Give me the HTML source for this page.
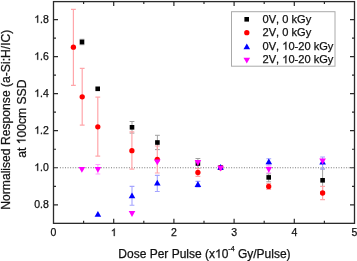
<!DOCTYPE html>
<html><head><meta charset="utf-8"><style>
html,body{margin:0;padding:0;background:#fff;width:357px;height:261px;overflow:hidden}
svg{display:block;will-change:transform;filter:blur(0.3px);font-family:"Liberation Sans",sans-serif;font-kerning:none}
text{stroke:#111;stroke-width:0.25px}
</style></head><body>
<svg width="357" height="261" viewBox="0 0 357 261">
<rect x="53.5" y="1.6" width="301.0" height="221.75" fill="none" stroke="#2a2a2a" stroke-width="1.3"/>
<path d="M83.60 223.35v-2.5M83.60 1.6v2.5M113.70 223.35v-4.5M113.70 1.6v4.5M143.80 223.35v-2.5M143.80 1.6v2.5M173.90 223.35v-4.5M173.90 1.6v4.5M204.00 223.35v-2.5M204.00 1.6v2.5M234.10 223.35v-4.5M234.10 1.6v4.5M264.20 223.35v-2.5M264.20 1.6v2.5M294.30 223.35v-4.5M294.30 1.6v4.5M324.40 223.35v-2.5M324.40 1.6v2.5M53.5 204.80h4.5M354.5 204.80h-4.5M53.5 186.28h2.5M354.5 186.28h-2.5M53.5 167.76h4.5M354.5 167.76h-4.5M53.5 149.24h2.5M354.5 149.24h-2.5M53.5 130.72h4.5M354.5 130.72h-4.5M53.5 112.20h2.5M354.5 112.20h-2.5M53.5 93.68h4.5M354.5 93.68h-4.5M53.5 75.16h2.5M354.5 75.16h-2.5M53.5 56.64h4.5M354.5 56.64h-4.5M53.5 38.12h2.5M354.5 38.12h-2.5M53.5 19.60h4.5M354.5 19.60h-4.5" stroke="#2a2a2a" stroke-width="1.2" fill="none"/>
<line x1="59.9" y1="167.76" x2="352" y2="167.76" stroke="#777" stroke-width="1" stroke-dasharray="1 1.556"/>
<g fill="#111"><text x="50.580" y="236.100" font-size="10.5">0</text><text x="110.780" y="236.100" font-size="10.5"> </text><path transform="matrix(0.005127 0 0 -0.005127 110.780 236.100)" stroke="#111" stroke-width="48.8" d="M763 0L583 0L583 1147Q518 1085 412 1023Q306 961 222 930L222 1104Q373 1175 486 1276Q599 1377 646 1472L763 1472Z"/><text x="170.980" y="236.100" font-size="10.5">2</text><text x="231.180" y="236.100" font-size="10.5">3</text><text x="291.380" y="236.100" font-size="10.5">4</text><text x="351.580" y="236.100" font-size="10.5">5</text><text x="34.254" y="207.900" font-size="10.5">0.8</text><text x="34.254" y="170.860" font-size="10.5"> .0</text><path transform="matrix(0.005127 0 0 -0.005127 34.254 170.860)" stroke="#111" stroke-width="48.8" d="M763 0L583 0L583 1147Q518 1085 412 1023Q306 961 222 930L222 1104Q373 1175 486 1276Q599 1377 646 1472L763 1472Z"/><text x="34.254" y="133.820" font-size="10.5"> .2</text><path transform="matrix(0.005127 0 0 -0.005127 34.254 133.820)" stroke="#111" stroke-width="48.8" d="M763 0L583 0L583 1147Q518 1085 412 1023Q306 961 222 930L222 1104Q373 1175 486 1276Q599 1377 646 1472L763 1472Z"/><text x="34.254" y="96.780" font-size="10.5"> .4</text><path transform="matrix(0.005127 0 0 -0.005127 34.254 96.780)" stroke="#111" stroke-width="48.8" d="M763 0L583 0L583 1147Q518 1085 412 1023Q306 961 222 930L222 1104Q373 1175 486 1276Q599 1377 646 1472L763 1472Z"/><text x="34.254" y="59.740" font-size="10.5"> .6</text><path transform="matrix(0.005127 0 0 -0.005127 34.254 59.740)" stroke="#111" stroke-width="48.8" d="M763 0L583 0L583 1147Q518 1085 412 1023Q306 961 222 930L222 1104Q373 1175 486 1276Q599 1377 646 1472L763 1472Z"/><text x="34.254" y="22.700" font-size="10.5"> .8</text><path transform="matrix(0.005127 0 0 -0.005127 34.254 22.700)" stroke="#111" stroke-width="48.8" d="M763 0L583 0L583 1147Q518 1085 412 1023Q306 961 222 930L222 1104Q373 1175 486 1276Q599 1377 646 1472L763 1472Z"/></g>
<g fill="#111"><text x="118.300" y="257.800" font-size="12">Dose Per Pulse (x 0</text><path transform="matrix(0.005859 0 0 -0.005859 215.003 257.800)" stroke="#111" stroke-width="42.7" d="M763 0L583 0L583 1147Q518 1085 412 1023Q306 961 222 930L222 1104Q373 1175 486 1276Q599 1377 646 1472L763 1472Z"/><text x="228.351" y="251.3" font-size="7">-4</text><text x="237.909" y="257.8" font-size="12">Gy/Pulse)</text></g>
<text transform="translate(10.2,209.8) rotate(-90)" font-size="12.15" fill="#111">Normalised Response (a-Si:H/IC)</text>
<g transform="translate(25.5,157.8) rotate(-90)" fill="#111"><text x="0.000" y="0.000" font-size="12.15">at  00cm SSD</text><path transform="matrix(0.005933 0 0 -0.005933 13.509 0.000)" stroke="#111" stroke-width="42.1" d="M763 0L583 0L583 1147Q518 1085 412 1023Q306 961 222 930L222 1104Q373 1175 486 1276Q599 1377 646 1472L763 1472Z"/></g>
<path d="M82.00 39.30V44.70M79.60 39.30h4.8M79.60 44.70h4.8M132.00 121.50V133.10M129.60 121.50h4.8M129.60 133.10h4.8M157.40 135.30V149.60M155.00 135.30h4.8M155.00 149.60h4.8M197.90 158.50V168.50M195.50 158.50h4.8M195.50 168.50h4.8M268.70 173.80V181.80M266.30 173.80h4.8M266.30 181.80h4.8M322.60 169.00V191.60M320.20 169.00h4.8M320.20 191.60h4.8" stroke="#a0a0a0" stroke-width="1.0" fill="none"/>
<g fill="#000"><rect x="79.70" y="39.70" width="4.6" height="4.6"/><rect x="95.40" y="86.50" width="4.6" height="4.6"/><rect x="129.70" y="125.00" width="4.6" height="4.6"/><rect x="155.10" y="140.20" width="4.6" height="4.6"/><rect x="195.60" y="161.20" width="4.6" height="4.6"/><rect x="218.30" y="165.40" width="4.6" height="4.6"/><rect x="266.40" y="175.10" width="4.6" height="4.6"/><rect x="320.30" y="178.00" width="4.6" height="4.6"/></g>
<path d="M73.40 9.40V85.30M71.00 9.40h4.8M71.00 85.30h4.8M82.20 68.40V125.20M79.80 68.40h4.8M79.80 125.20h4.8M97.80 97.20V156.10M95.40 97.20h4.8M95.40 156.10h4.8M131.90 131.90V169.10M129.50 131.90h4.8M129.50 169.10h4.8M157.30 146.00V173.00M154.90 146.00h4.8M154.90 173.00h4.8M197.90 168.50V176.40M195.50 168.50h4.8M195.50 176.40h4.8M268.70 183.50V189.30M266.30 183.50h4.8M266.30 189.30h4.8M322.60 186.30V199.60M320.20 186.30h4.8M320.20 199.60h4.8" stroke="#ffa6aa" stroke-width="1.2" fill="none"/>
<g fill="#f00"><circle cx="73.40" cy="47.20" r="2.65"/><circle cx="82.20" cy="96.80" r="2.65"/><circle cx="97.80" cy="126.80" r="2.65"/><circle cx="131.90" cy="150.70" r="2.65"/><circle cx="157.30" cy="159.50" r="2.65"/><circle cx="197.90" cy="172.50" r="2.65"/><circle cx="220.60" cy="167.70" r="2.65"/><circle cx="268.70" cy="186.40" r="2.65"/><circle cx="322.60" cy="193.00" r="2.65"/></g>
<path d="M132.00 186.40V205.30M129.60 186.40h4.8M129.60 205.30h4.8M157.30 175.40V191.50M154.90 175.40h4.8M154.90 191.50h4.8M197.90 181.40V186.90M195.50 181.40h4.8M195.50 186.90h4.8M268.80 158.70V165.00M266.40 158.70h4.8M266.40 165.00h4.8M322.60 157.00V169.00M320.20 157.00h4.8M320.20 169.00h4.8" stroke="#a4a4ff" stroke-width="1.1" fill="none"/>
<g fill="#00f"><path d="M97.90 210.90L101.20 216.70H94.60Z"/><path d="M132.00 192.50L135.30 198.30H128.70Z"/><path d="M157.30 179.70L160.60 185.50H154.00Z"/><path d="M197.90 181.10L201.20 186.90H194.60Z"/><path d="M220.60 164.00L223.90 169.80H217.30Z"/><path d="M268.80 158.50L272.10 164.30H265.50Z"/><path d="M322.60 158.70L325.90 164.50H319.30Z"/></g>
<path d="M97.90 164.50V174.00M95.50 164.50h4.8M95.50 174.00h4.8M268.80 166.00V172.70M266.40 166.00h4.8M266.40 172.70h4.8" stroke="#ffa4ff" stroke-width="1.1" fill="none"/>
<g fill="#f0f"><path d="M81.90 172.70L85.20 166.90H78.60Z"/><path d="M97.90 172.80L101.20 167.00H94.60Z"/><path d="M132.00 216.90L135.30 211.10H128.70Z"/><path d="M157.30 165.30L160.60 159.50H154.00Z"/><path d="M197.90 165.90L201.20 160.10H194.60Z"/><path d="M220.60 171.50L223.90 165.70H217.30Z"/><path d="M268.80 172.80L272.10 167.00H265.50Z"/><path d="M322.60 164.40L325.90 158.60H319.30Z"/></g>
<rect x="231.5" y="11.7" width="103.5" height="54.5" fill="#fff" stroke="#aaa" stroke-width="1"/>
<rect x="244.40" y="17.00" width="4.6" height="4.6"/>
<g fill="#f00"><circle cx="246.80" cy="32.70" r="2.65"/></g>
<g fill="#00f"><path d="M246.80 43.50L250.10 49.30H243.50Z"/></g>
<g fill="#f0f"><path d="M246.80 63.50L250.10 57.70H243.50Z"/></g>
<g fill="#111"><text x="262.500" y="22.500" font-size="11.1">0V, 0 kGy</text><text x="262.500" y="36.100" font-size="11.1">2V, 0 kGy</text><text x="262.500" y="49.700" font-size="11.1">0V,  0-20 kGy</text><path transform="matrix(0.005420 0 0 -0.005420 282.245 49.700)" stroke="#111" stroke-width="46.1" d="M763 0L583 0L583 1147Q518 1085 412 1023Q306 961 222 930L222 1104Q373 1175 486 1276Q599 1377 646 1472L763 1472Z"/><text x="262.500" y="63.300" font-size="11.1">2V,  0-20 kGy</text><path transform="matrix(0.005420 0 0 -0.005420 282.245 63.300)" stroke="#111" stroke-width="46.1" d="M763 0L583 0L583 1147Q518 1085 412 1023Q306 961 222 930L222 1104Q373 1175 486 1276Q599 1377 646 1472L763 1472Z"/></g>
</svg>
</body></html>
